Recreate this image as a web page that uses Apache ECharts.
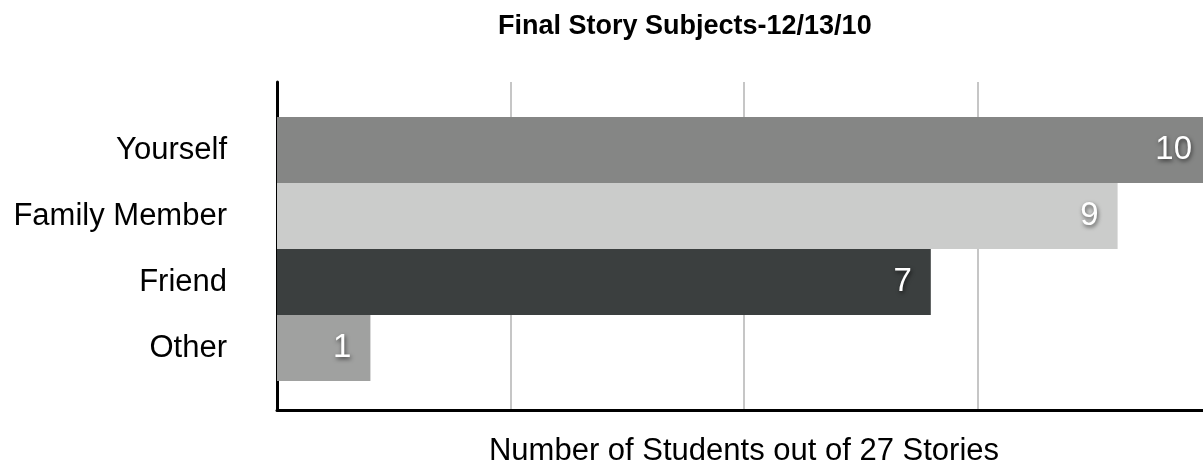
<!DOCTYPE html>
<html>
<head>
<meta charset="utf-8">
<script src="https://cdn.jsdelivr.net/npm/echarts@6/dist/echarts.min.js"></script>
<style>
  html, body { margin: 0; padding: 0; background: #fff; }
  #chart { width: 1203px; height: 468px; }
</style>
</head>
<body>
<div id="chart"></div>
<script>
// data
var categories = ['Yourself', 'Family Member', 'Friend', 'Other'];
var counts = [10, 9, 7, 1];
var barColors = ['#858685', '#cbcccb', '#3b3f3f', '#a0a1a0'];

var chart = echarts.init(document.getElementById('chart'));
var font = '"Liberation Sans", Arial, Helvetica, sans-serif';

var option = {
  animation: false,
  title: {
    text: 'Final Story Subjects-12/13/10',
    left: 493,
    top: 8,
    textStyle: { fontFamily: font, fontSize: 27, fontWeight: 'bold', color: '#000' }
  },
  // grid 0 = frame (axis lines + gridlines), grid 1 = bars
  // the chart is cropped on the right, so the grids run past the canvas edge
  grid: [
    { left: 277, top: 82, width: 934, height: 328, outerBoundsMode: 'none' },
    { left: 277, top: 117, width: 934, height: 264, outerBoundsMode: 'none' }
  ],
  xAxis: [
    {
      gridIndex: 0, type: 'value', min: 0, max: 10, interval: 2.5,
      axisLine: { show: true, lineStyle: { color: '#000', width: 3 } },
      axisTick: { show: false },
      axisLabel: { show: false },
      splitLine: { show: true, lineStyle: { color: '#c6c6c6', width: 2 } },
      name: 'Number of Students out of 27 Stories',
      nameLocation: 'middle',
      nameGap: 26,
      nameTextStyle: { fontFamily: font, fontSize: 31, color: '#000' }
    },
    { gridIndex: 1, type: 'value', min: 0, max: 10, show: false }
  ],
  yAxis: [
    {
      gridIndex: 0, type: 'value',
      axisLine: { show: true, lineStyle: { color: '#000', width: 3 } },
      axisTick: { show: false },
      axisLabel: { show: false },
      splitLine: { show: false }
    },
    {
      gridIndex: 1, type: 'category', inverse: true, data: categories,
      axisLine: { show: false },
      axisTick: { show: false },
      axisLabel: { margin: 50, fontFamily: font, fontSize: 31, color: '#000' }
    }
  ],
  series: [{
    type: 'bar',
    xAxisIndex: 1,
    yAxisIndex: 1,
    barCategoryGap: 0,
    clip: false,
    data: counts.map(function (v, i) {
      return { value: v, itemStyle: { color: barColors[i] } };
    }),
    label: {
      show: true,
      position: 'insideRight',
      distance: 19,
      fontFamily: font,
      fontSize: 33,
      color: '#fff',
      textShadowColor: 'rgba(0,0,0,0.6)',
      textShadowBlur: 4,
      textShadowOffsetX: 1,
      textShadowOffsetY: 2
    }
  }]
};
chart.setOption(option);
</script>
</body>
</html>
